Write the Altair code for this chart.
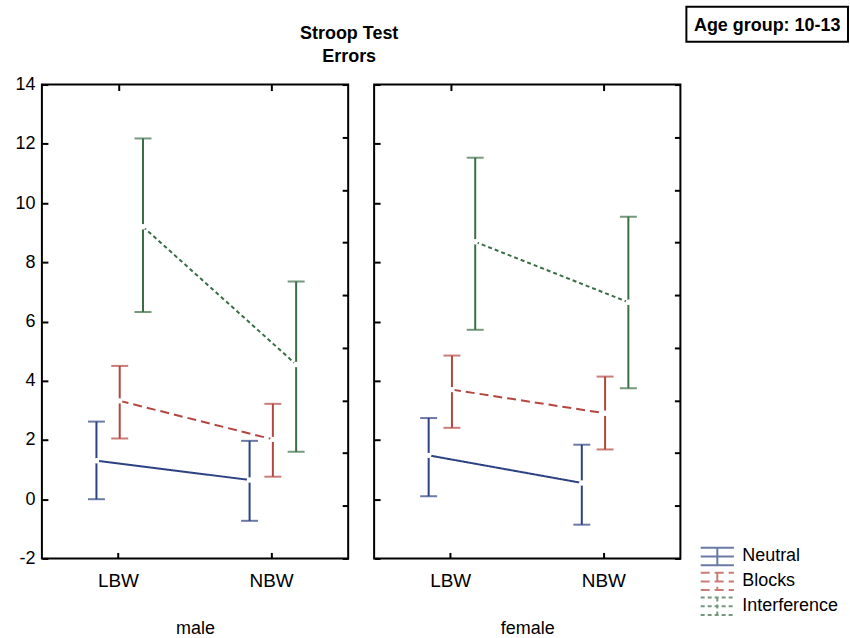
import altair as alt
import pandas as pd

# ---------------- data ----------------
series = ["Neutral", "Blocks", "Interference"]
groups = ["LBW", "NBW"]
sexes = ["male", "female"]

male_mean = {"Neutral": [1.30, 0.65], "Blocks": [3.32, 2.02], "Interference": [9.20, 4.55]}
male_low = {"Neutral": [0.00, -0.73], "Blocks": [2.05, 0.76], "Interference": [6.32, 1.60]}
male_high = {"Neutral": [2.62, 1.97], "Blocks": [4.50, 3.22], "Interference": [12.18, 7.35]}

female_mean = {"Neutral": [1.48, 0.55], "Blocks": [3.70, 2.90], "Interference": [8.69, 6.65]}
female_low = {"Neutral": [0.10, -0.86], "Blocks": [2.41, 1.68], "Interference": [5.72, 3.75]}
female_high = {"Neutral": [2.74, 1.84], "Blocks": [4.85, 4.14], "Interference": [11.53, 9.54]}

y_ticks = [-2, 0, 2, 4, 6, 8, 10, 12, 14]
right_ticks = list(range(10))
title_lines = ["Stroop Test", "Errors"]
age_label = "Age group:  10-13"

colors = ["#2c4282", "#b4463f", "#3b6d46"]
dashes = [[1, 0], [9, 5], [4, 3]]

rows = []
for sex, mean, low, high in [("male", male_mean, male_low, male_high),
                             ("female", female_mean, female_low, female_high)]:
    for s in series:
        for i, g in enumerate(groups):
            rows.append(dict(sex=sex, series=s, group=g,
                             mean=mean[s][i], low=low[s][i], high=high[s][i]))
df = pd.DataFrame(rows)
df_groups = pd.DataFrame({"group": groups})
df_right = pd.DataFrame({"v": right_ticks})
df_one = pd.DataFrame({"a": [0]})

FONT = "Liberation Sans"
W, H = 307, 475

x_scale = alt.Scale(domain=groups, paddingInner=0, paddingOuter=0)
xo_scale = alt.Scale(domain=series, range=[43, 113], paddingInner=0, paddingOuter=0)
y_scale = alt.Scale(domain=[-2, 14], nice=False, zero=False)
color_scale = alt.Scale(domain=series, range=colors)
dash_scale = alt.Scale(domain=series, range=dashes)

legend = alt.Legend(
    title=None, orient="none", legendX=667, legendY=463,
    symbolType="M-1.85,-0.97H1.85M-1.85,0.97H1.85M0,-0.97V0.97M-1.85,0H1.85",
    symbolSize=324, symbolStrokeWidth=2, symbolFillColor="transparent",
    labelFont=FONT, labelFontSize=18, labelColor="black", labelOffset=15,
    rowPadding=-1,
)


def panel(sex, first):
    base = alt.Chart(df).transform_filter(alt.datum.sex == sex)
    x_enc = alt.X(
        "group:N", scale=x_scale, sort=groups,
        axis=alt.Axis(title=sex, orient="bottom", labelAngle=0, labelFont=FONT,
                      labelFontSize=19, labelColor="black", labelPadding=13,
                      titleFont=FONT, titleFontSize=18, titleFontWeight="normal",
                      titleColor="black", titlePadding=29,
                      offset=-6, tickSize=6, tickWidth=2, tickColor="black",
                      domain=False, grid=False),
    )
    xo = alt.XOffset("series:N", scale=xo_scale, sort=series)
    y_axis = alt.Axis(values=y_ticks, labels=first, title=None, labelFont=FONT,
                      labelFontSize=18, labelColor="black", labelPadding=7,
                      labelExpr="'' + datum.value",
                      offset=-6, tickSize=6, tickWidth=2, tickColor="black",
                      domain=False, grid=False)
    color = alt.Color("series:N", scale=color_scale, sort=series, legend=legend)
    dash = alt.StrokeDash("series:N", scale=dash_scale, sort=series, legend=legend)

    bars = base.mark_rule(strokeWidth=2).encode(
        x=x_enc, xOffset=xo,
        y=alt.Y("low:Q", scale=y_scale, axis=y_axis), y2="high:Q",
        color=color)
    cap_lo = base.mark_tick(orient="horizontal", size=17, thickness=2).encode(
        x=x_enc, xOffset=xo, y=alt.Y("low:Q", scale=y_scale), color=color)
    cap_hi = base.mark_tick(orient="horizontal", size=17, thickness=2).encode(
        x=x_enc, xOffset=xo, y=alt.Y("high:Q", scale=y_scale), color=color)
    line = base.mark_line(strokeWidth=2).encode(
        x=x_enc, xOffset=xo, y=alt.Y("mean:Q", scale=y_scale),
        color=color, strokeDash=dash, detail="series:N")
    pts = base.mark_point(filled=True, color="white", size=30, opacity=1).encode(
        x=x_enc, xOffset=xo, y=alt.Y("mean:Q", scale=y_scale))

    layers = [bars, cap_lo, cap_hi, line, pts]
    if first:
        ttl = alt.Chart(df_one).mark_text(
            font=FONT, fontSize=18, fontWeight="bold", color="black",
            align="center", baseline="alphabetic", lineHeight=23,
        ).encode(x=alt.value(308), y=alt.value(-46), text=alt.value(title_lines))
        layers.append(ttl)
    else:
        box = alt.Chart(df_one).mark_rect(fill="white", stroke="black", strokeWidth=2).encode(
            x=alt.value(313), x2=alt.value(475), y=alt.value(-78), y2=alt.value(-43))
        txt = alt.Chart(df_one).mark_text(
            font=FONT, fontSize=18, fontWeight="bold", color="black",
            align="center", baseline="alphabetic",
        ).encode(x=alt.value(394), y=alt.value(-54), text=alt.value(age_label))
        layers += [box, txt]

    main = alt.layer(*layers)

    top_ax = alt.Chart(df_groups).mark_point(opacity=0).encode(
        x=alt.X("group:N", scale=x_scale, sort=groups,
                axis=alt.Axis(orient="top", labels=False, title=None, offset=-6,
                              tickSize=6, tickWidth=2, tickColor="black",
                              domain=False, grid=False)))
    right_ax = alt.Chart(df_right).mark_point(opacity=0).encode(
        y=alt.Y("v:Q", scale=alt.Scale(domain=[0, 9], nice=False, zero=False),
                axis=alt.Axis(orient="right", values=right_ticks, labels=False,
                              title=None, offset=-6, tickSize=6, tickWidth=2,
                              tickColor="black", domain=False, grid=False)))

    return alt.layer(main, top_ax, right_ax).resolve_scale(
        x="independent", y="independent").properties(width=W, height=H)


chart = alt.hconcat(panel("male", True), panel("female", False),
                    spacing=26, bounds="flush").resolve_scale(
    color="shared", strokeDash="shared").properties(
    padding={"left": 13, "top": 4, "right": 0, "bottom": 0},
    background="white",
).configure_view(stroke="black", strokeWidth=2)

chart.save("out.html", embed_options={"renderer": "svg", "actions": False})
